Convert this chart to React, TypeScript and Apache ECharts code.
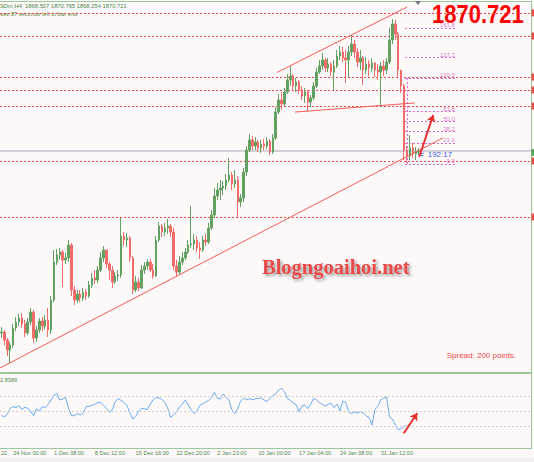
import React, { useEffect, useRef } from "react";
import * as echarts from "echarts";

// ---- data (XAUUSDm, H4) ----
const headerText = "SDm,H4  1868.507 1870.765 1868.254 1870.721";
const countdownText = "ses 37 seconds left to bar end";
const lastPriceText = "1870.721";
const currentPrice = 1870.721;

const firstOpen = 1747.0;
const closes = [
  1747.6, 1742.2, 1735.4, 1738.8, 1750.4, 1754.4, 1757.2, 1753.1, 1747.0, 1754.4,
  1761.2, 1743.6, 1749.0, 1755.1, 1751.7, 1755.8, 1749.0, 1769.4, 1795.2, 1800.0,
  1802.0, 1796.6, 1798.0, 1806.8, 1776.2, 1769.4, 1773.5, 1770.8, 1774.8, 1772.1,
  1779.6, 1784.4, 1783.0, 1789.8, 1798.0, 1803.4, 1793.9, 1789.8, 1781.6, 1785.7,
  1786.4, 1812.9, 1810.2, 1811.6, 1798.0, 1776.2, 1781.6, 1777.6, 1789.8, 1792.5,
  1795.2, 1789.8, 1785.7, 1810.2, 1819.7, 1815.6, 1818.4, 1819.7, 1815.6, 1792.5,
  1788.4, 1795.2, 1798.0, 1802.0, 1806.8, 1807.5, 1810.2, 1804.8, 1803.4, 1810.2,
  1808.8, 1818.4, 1827.2, 1840.1, 1844.2, 1845.6, 1846.9, 1851.0, 1854.4, 1848.3,
  1851.0, 1836.0, 1838.8, 1856.4, 1871.4, 1878.2, 1874.1, 1876.8, 1872.8, 1875.5,
  1874.1, 1877.5, 1870.0, 1879.6, 1897.2, 1905.4, 1902.7, 1910.8, 1919.0, 1921.7,
  1914.9, 1917.6, 1912.2, 1908.1, 1910.8, 1904.0, 1906.8, 1914.9, 1924.4, 1928.5,
  1932.6, 1927.2, 1929.9, 1924.4, 1928.5, 1935.3, 1938.0, 1934.0, 1932.6, 1938.0,
  1943.5, 1938.0, 1931.2, 1934.0, 1925.8, 1929.9, 1927.2, 1930.6, 1925.8, 1924.4,
  1928.5, 1925.8, 1931.2, 1946.2, 1957.1, 1950.3, 1925.8, 1914.9, 1871.4, 1867.3,
  1872.8, 1868.7, 1870.0, 1870.72,
];
const highs = [
  1751.0, 1749.0, 1743.6, 1740.8, 1753.1, 1757.8, 1759.9, 1760.6, 1755.8, 1757.2,
  1764.0, 1762.6, 1751.7, 1757.2, 1757.8, 1759.2, 1764.0, 1772.1, 1803.4, 1804.1,
  1804.8, 1803.4, 1801.4, 1810.2, 1808.2, 1778.9, 1776.2, 1776.2, 1777.6, 1776.9,
  1782.3, 1787.8, 1789.8, 1792.5, 1802.0, 1806.1, 1803.4, 1795.2, 1792.5, 1788.4,
  1789.8, 1825.2, 1815.6, 1815.0, 1812.9, 1799.3, 1785.7, 1784.4, 1793.2, 1795.2,
  1797.3, 1797.3, 1793.9, 1812.9, 1822.4, 1821.1, 1821.8, 1824.5, 1821.1, 1818.4,
  1796.6, 1799.3, 1802.0, 1804.8, 1810.2, 1833.3, 1814.3, 1812.9, 1808.8, 1812.9,
  1814.3, 1821.8, 1830.6, 1845.6, 1849.0, 1851.0, 1850.3, 1855.1, 1866.0, 1856.4,
  1857.8, 1853.7, 1841.5, 1859.2, 1874.1, 1882.3, 1880.9, 1880.2, 1878.2, 1878.2,
  1878.9, 1880.2, 1878.9, 1882.3, 1900.6, 1909.5, 1910.8, 1913.6, 1923.1, 1929.2,
  1923.1, 1920.4, 1919.0, 1914.9, 1913.6, 1912.2, 1908.8, 1917.6, 1927.2, 1932.6,
  1937.4, 1934.0, 1934.0, 1931.2, 1932.6, 1939.4, 1942.1, 1941.4, 1939.4, 1942.1,
  1949.6, 1946.2, 1940.8, 1939.4, 1935.3, 1934.6, 1932.6, 1934.0, 1931.2, 1929.9,
  1931.2, 1932.6, 1934.0, 1954.4, 1960.5, 1959.8, 1951.6, 1924.4, 1916.3, 1874.1,
  1881.6, 1876.2, 1873.4, 1872.8,
];
const lows = [
  1743.6, 1738.8, 1731.3, 1726.6, 1736.8, 1748.3, 1751.7, 1750.4, 1744.2, 1745.6,
  1752.4, 1740.2, 1740.8, 1747.0, 1748.3, 1749.7, 1744.2, 1746.3, 1768.0, 1793.2,
  1796.6, 1778.2, 1793.9, 1795.2, 1772.1, 1766.0, 1767.4, 1768.0, 1768.7, 1769.4,
  1770.8, 1777.6, 1780.3, 1781.0, 1788.4, 1795.2, 1791.2, 1783.0, 1777.6, 1780.3,
  1782.3, 1784.4, 1806.1, 1805.4, 1795.2, 1773.5, 1774.8, 1775.5, 1776.9, 1787.1,
  1789.8, 1788.4, 1783.7, 1785.0, 1808.8, 1812.2, 1812.9, 1814.3, 1812.2, 1789.8,
  1785.0, 1787.1, 1793.2, 1796.6, 1800.7, 1804.8, 1803.4, 1802.0, 1797.3, 1802.0,
  1806.1, 1807.5, 1817.0, 1825.2, 1837.4, 1837.4, 1840.8, 1844.2, 1849.6, 1844.2,
  1845.6, 1825.8, 1832.6, 1836.0, 1853.7, 1870.0, 1871.4, 1871.4, 1870.0, 1869.4,
  1871.4, 1872.1, 1868.0, 1868.7, 1878.2, 1895.9, 1898.6, 1901.3, 1909.5, 1914.9,
  1912.2, 1910.8, 1909.5, 1905.4, 1903.4, 1897.2, 1900.6, 1905.4, 1913.6, 1923.1,
  1925.8, 1924.4, 1924.4, 1921.7, 1912.2, 1927.2, 1932.6, 1931.2, 1917.0, 1921.0,
  1935.3, 1934.0, 1927.8, 1925.8, 1915.6, 1923.1, 1921.7, 1924.4, 1921.0, 1919.0,
  1900.6, 1921.7, 1923.1, 1929.9, 1943.5, 1946.2, 1921.0, 1910.2, 1864.6, 1862.6,
  1864.6, 1866.0, 1864.6, 1868.0,
];
const rsiValues = [
  43.7, 42.3, 45.5, 53.6, 55.9, 54.5, 57.2, 52.3, 55.0, 53.6,
  50.0, 43.7, 52.7, 50.0, 56.3, 54.5, 59.0, 64.9, 71.6, 73.4,
  64.9, 66.2, 68.0, 53.6, 43.7, 43.7, 46.4, 44.6, 46.8, 55.9,
  56.3, 57.7, 59.0, 61.3, 61.7, 57.7, 53.6, 48.2, 51.8, 62.6,
  66.7, 64.4, 61.7, 57.7, 47.7, 39.2, 42.3, 50.0, 53.6, 53.2,
  51.8, 59.0, 64.9, 68.9, 67.5, 65.8, 61.7, 53.6, 41.0, 45.0,
  48.6, 55.0, 59.5, 64.9, 58.1, 51.8, 46.4, 50.0, 57.7, 59.9,
  62.2, 64.0, 68.0, 75.2, 67.1, 66.2, 73.0, 68.5, 64.4, 51.4,
  46.8, 53.6, 63.5, 67.1, 65.3, 66.7, 65.3, 66.2, 67.1, 67.5,
  64.9, 62.6, 67.1, 70.7, 73.4, 78.4, 80.6, 76.1, 67.1, 64.4,
  60.8, 58.6, 49.1, 56.8, 58.1, 53.2, 59.5, 67.1, 64.9, 61.3,
  59.0, 56.8, 59.0, 60.4, 54.5, 59.5, 50.0, 63.5, 61.7, 49.1,
  46.4, 48.6, 47.3, 49.1, 47.3, 43.7, 41.0, 31.1, 52.3, 55.9,
  65.3, 67.1, 68.9, 41.4, 39.2, 31.1, 24.8, 26.1, 29.3, 30.2,
];
const rsiLevels = [30, 50, 70];
const rsiLabel = "2.8389";

const slotCount = 182;
const tickLabelIndex = [4, 18, 32, 46, 60, 74, 88, 102, 116, 130];
const tickLabels = [
  "24 Nov 00:00", "1 Dec 08:00", "8 Dec 12:00", "15 Dec 16:00", "22 Dec 20:00",
  "2 Jan 23:00", "10 Jan 00:00", "17 Jan 04:00", "24 Jan 08:00", "31 Jan 12:00",
];

const levelLines = [1964.6, 1948.9, 1921.0, 1912.2, 1901.3, 1863.9, 1825.8];

const fibNames = ["161.8", "127.2", "100.0", "61.8", "50.0", "38.2", "23.6", "0.0"];
const fibPrices = [1954.4, 1934.6, 1920.4, 1897.9, 1891.1, 1884.3, 1876.2, 1861.9];
const fibFrom = 138.3;
const fibTo = 155.8;
const fibAnchor = [[139.0, 1920.4], [139.0, 1861.9]];

const trendLines = [
  [[-0.5, 1723.2], [151.3, 1879.6]],
  [[94.5, 1924.2], [139.0, 1968.6]],
  [[100.6, 1897.2], [141.7, 1903.4]],
];
const priceArrow = [[143.2, 1866.8], [148.0, 1895.2]];
const rsiArrow = [[137.9, 19.9], [142.5, 46.9]];

const priceMin = 1720.44;
const priceMax = 1971.36;

const GREEN = "#9cc69c";
const FONT = '"Liberation Sans", Arial, sans-serif';

export default function App() {
  const ref = useRef<HTMLDivElement>(null);

  useEffect(() => {
    document.body.style.margin = "0";
    const chart = echarts.init(ref.current!, null, { renderer: "svg" });

    const candles = closes.map((c, i) => {
      const o = i === 0 ? firstOpen : closes[i - 1];
      return [o, c, Math.min(lows[i], o, c), Math.max(highs[i], o, c)];
    });
    const categories = Array.from({ length: slotCount }, (_, i) => String(i));
    const labelMap: Record<string, string> = {};
    tickLabelIndex.forEach((idx, k) => (labelMap[String(idx)] = tickLabels[k]));
    const showTick = (index: number) => tickLabelIndex.includes(index);

    const option: any = {
      animation: false,
      backgroundColor: "#fdf9f9",
      grid: [
        { left: 0, top: 3, width: 531, height: 369 },
        { left: 0, top: 374, width: 531, height: 74 },
      ],
      xAxis: [
        { gridIndex: 0, type: "category", data: categories, show: false, boundaryGap: true },
        {
          gridIndex: 1,
          type: "category",
          data: categories,
          boundaryGap: true,
          axisLine: { lineStyle: { color: GREEN, width: 1 } },
          axisTick: { alignWithLabel: true, interval: showTick, length: 3, lineStyle: { color: GREEN } },
          axisLabel: {
            interval: showTick,
            formatter: (v: string) => labelMap[v] ?? "",
            align: "left",
            margin: 2,
            fontSize: 5.6,
            fontFamily: FONT,
            color: "#4f8a4f",
          },
          splitLine: { show: false },
        },
        { gridIndex: 0, type: "value", min: -0.5, max: slotCount - 0.5, show: false, splitLine: { show: false } },
        { gridIndex: 1, type: "value", min: -0.5, max: slotCount - 0.5, show: false, splitLine: { show: false } },
      ],
      yAxis: [
        { gridIndex: 0, type: "value", min: priceMin, max: priceMax, show: false, splitLine: { show: false } },
        { gridIndex: 1, type: "value", min: 0, max: 100, show: false, splitLine: { show: false } },
      ],
      series: [
        {
          type: "lines",
          coordinateSystem: "cartesian2d",
          xAxisIndex: 2,
          yAxisIndex: 0,
          z: 1,
          silent: true,
          data: levelLines.map((p) => ({ coords: [[-0.5, p], [slotCount - 0.5, p]] })),
          lineStyle: { color: "#f24a4a", width: 1, type: [2, 2], opacity: 1 },
        },
        {
          type: "lines",
          coordinateSystem: "cartesian2d",
          xAxisIndex: 2,
          yAxisIndex: 0,
          z: 1,
          silent: true,
          data: [{ coords: [[-0.5, currentPrice], [slotCount - 0.5, currentPrice]] }],
          lineStyle: { color: "#c4c4cc", width: 1.5, opacity: 1 },
        },
        {
          type: "lines",
          coordinateSystem: "cartesian2d",
          xAxisIndex: 2,
          yAxisIndex: 0,
          z: 1,
          silent: true,
          data: [
            ...fibPrices.map((p) => ({ coords: [[fibFrom, p], [fibTo, p]] })),
            { coords: fibAnchor },
          ],
          lineStyle: { color: "#dd6ad0", width: 1, type: [2, 2], opacity: 1 },
        },
        {
          type: "candlestick",
          xAxisIndex: 0,
          yAxisIndex: 0,
          z: 3,
          barWidth: 2,
          data: candles,
          itemStyle: {
            color: "#62a162",
            color0: "#f26c6c",
            borderColor: "#62a162",
            borderColor0: "#f26c6c",
            borderWidth: 1,
          },
        },
        {
          type: "lines",
          coordinateSystem: "cartesian2d",
          xAxisIndex: 2,
          yAxisIndex: 0,
          z: 4,
          silent: true,
          data: trendLines.map((c) => ({ coords: c })),
          lineStyle: { color: "#f55a5a", width: 1, opacity: 1 },
        },
        {
          type: "lines",
          coordinateSystem: "cartesian2d",
          xAxisIndex: 2,
          yAxisIndex: 0,
          z: 5,
          silent: true,
          symbol: ["none", "arrow"],
          symbolSize: 7,
          data: [{ coords: priceArrow }],
          lineStyle: { color: "#e8302f", width: 2, opacity: 1 },
        },
        {
          type: "scatter",
          xAxisIndex: 2,
          yAxisIndex: 0,
          symbolSize: 0,
          silent: true,
          z: 10,
          data: fibPrices.map((p, i) => ({ value: [fibTo - 0.4, p], name: fibNames[i] })),
          label: {
            show: true,
            formatter: "{b}",
            position: "left",
            distance: 0,
            offset: [0, -2.5],
            fontSize: 6,
            fontFamily: FONT,
            color: "#cc55bb",
          },
        },
        {
          type: "scatter",
          xAxisIndex: 2,
          yAxisIndex: 0,
          symbol: "rect",
          symbolSize: [3, 7],
          clip: false,
          silent: true,
          z: 5,
          data: [
            ...levelLines.map((p) => ({ value: [182.2, p], itemStyle: { color: "#e82020" } })),
            { value: [182.2, currentPrice - 1], itemStyle: { color: "#2e8b2e" } },
          ],
        },
        {
          type: "line",
          xAxisIndex: 1,
          yAxisIndex: 1,
          data: rsiValues,
          symbol: "none",
          z: 3,
          lineStyle: { color: "#6aaaf0", width: 1 },
          markLine: {
            silent: true,
            symbol: "none",
            label: { show: false },
            lineStyle: { color: "#cfcfcf", type: [2, 2], width: 1 },
            data: rsiLevels.map((v) => ({ yAxis: v })),
          },
        },
        {
          type: "lines",
          coordinateSystem: "cartesian2d",
          xAxisIndex: 3,
          yAxisIndex: 1,
          z: 5,
          silent: true,
          symbol: ["none", "arrow"],
          symbolSize: 7,
          data: [{ coords: rsiArrow }],
          lineStyle: { color: "#e8302f", width: 2, opacity: 1 },
        },
      ],
      graphic: [
        { type: "rect", silent: true, shape: { x: 0, y: 458, width: 534, height: 4 }, style: { fill: "#f3f0f0" } },
        { type: "rect", silent: true, shape: { x: 0, y: 1, width: 532, height: 1 }, style: { fill: GREEN } },
        { type: "rect", silent: true, shape: { x: 531, y: 1, width: 1, height: 448 }, style: { fill: GREEN } },
        { type: "rect", silent: true, shape: { x: 0, y: 372, width: 532, height: 2 }, style: { fill: GREEN } },
        { type: "polygon", silent: true, shape: { points: [[415, 1], [421, 1], [418, 5]] }, style: { fill: "#6a7a8c" } },
        {
          type: "text", x: 0, y: 6, silent: true,
          style: { text: headerText, font: `5.8px ${FONT}`, fill: "#4a8a4a", verticalAlign: "middle" },
        },
        {
          type: "text", x: 0, y: 14, silent: true,
          style: { text: countdownText, font: `5.8px ${FONT}`, fill: "#5a8a3a", verticalAlign: "middle" },
        },
        {
          type: "text", x: 432, y: 14.5, scaleX: 0.88, silent: true,
          style: { text: lastPriceText, font: `bold 25px ${FONT}`, fill: "#ff0000", verticalAlign: "middle" },
        },
        {
          type: "text", x: 419, y: 154.5, silent: true,
          style: { text: "<", font: `bold 8px ${FONT}`, fill: "#3d5fe0", verticalAlign: "middle" },
        },
        {
          type: "text", x: 427.7, y: 154.5, silent: true,
          style: { text: "192:17", font: `8px ${FONT}`, fill: "#3d5fe0", verticalAlign: "middle" },
        },
        {
          type: "text", x: 262, y: 267, silent: true,
          style: {
            text: "Blogngoaihoi.net",
            font: 'bold 20.5px "Liberation Serif", "Times New Roman", serif',
            fill: "#e84848",
            verticalAlign: "middle",
            textShadowColor: "rgba(0,0,0,0.4)",
            textShadowBlur: 3,
            textShadowOffsetX: 2,
            textShadowOffsetY: 2,
          },
        },
        {
          type: "text", x: 446.7, y: 355, silent: true,
          style: { text: "Spread: 200 points.", font: `8px ${FONT}`, fill: "#f04848", verticalAlign: "middle" },
        },
        {
          type: "text", x: 0, y: 380, silent: true,
          style: { text: rsiLabel, font: `5.6px ${FONT}`, fill: "#4a8a4a", verticalAlign: "middle" },
        },
        {
          type: "text", x: 1, y: 452.8, silent: true,
          style: { text: "22", font: `5.6px ${FONT}`, fill: "#4f8a4f", verticalAlign: "middle" },
        },
      ],
    };

    chart.setOption(option);
    return () => chart.dispose();
  }, []);

  return <div ref={ref} style={{ width: 534, height: 462 }} />;
}
